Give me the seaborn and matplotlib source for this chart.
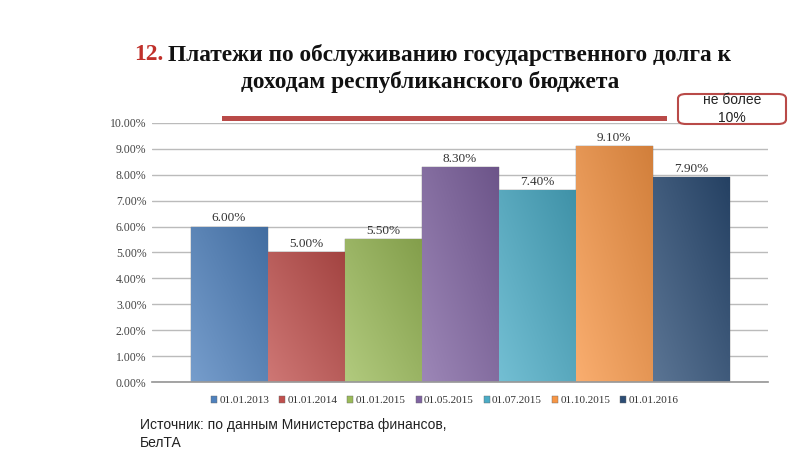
import matplotlib
matplotlib.use("Agg")
import matplotlib.pyplot as plt
import seaborn as sns
import pandas as pd
import numpy as np
from matplotlib.patches import FancyBboxPatch, Rectangle
from matplotlib.colors import to_rgb

dates = ["01.01.2013", "01.01.2014", "01.01.2015", "01.05.2015",
         "01.07.2015", "01.10.2015", "01.01.2016"]
values = [6.00, 5.00, 5.50, 8.30, 7.40, 9.10, 7.90]
colors = ["#4f81bd", "#c0504d", "#9bbb59", "#8064a2", "#4bacc6", "#f79646", "#2c4d75"]
yticks = [0, 1, 2, 3, 4, 5, 6, 7, 8, 9, 10]

df = pd.DataFrame({"group": ["g"] * len(dates), "date": dates, "value": values})

sns.set_theme(style="white")
plt.rcParams["font.family"] = ["Liberation Serif", "DejaVu Serif"]

fig = plt.figure(figsize=(8, 4.5), dpi=100)
ax = fig.add_axes([0.19, 0.151, 0.77, 0.576])

sns.barplot(data=df, x="group", y="value", hue="date", hue_order=dates,
            palette=colors, width=0.875, gap=0, ax=ax, legend=True,
            edgecolor="#666666", linewidth=0.3, saturation=1)

ax.set_ylim(0, 10)
ax.set_xlim(-0.5, 0.5)
ax.set_yticks(yticks)
ax.set_yticklabels([f"{t:.2f}%" for t in yticks], fontsize=8.5, color="#444444")
ax.tick_params(axis="y", length=0, pad=4)
ax.set_xticks([])
ax.set_xlabel("")
ax.set_ylabel("")
ax.yaxis.grid(True, color="#bbbbbb", linewidth=1)
ax.set_axisbelow(True)
for s in ["top", "right", "left"]:
    ax.spines[s].set_visible(False)
ax.spines["bottom"].set_color("#999999")


def shade(c, f):
    r = np.array(to_rgb(c))
    if f >= 0:
        return r + (1 - r) * f
    return r * (1 + f)


for cont in ax.containers:
    for bar in cont:
        h = bar.get_height()
        x0 = bar.get_x()
        w = bar.get_width()
        c = bar.get_facecolor()
        ny, nx = 60, 20
        xx, yy = np.meshgrid(np.linspace(0, 1, nx), np.linspace(0, 1, ny))
        t = (xx + yy) / 2  # 0 at bottom-left, 1 at top-right
        light = shade(c, 0.22)
        dark = shade(c, -0.15)
        img = light[None, None, :] * (1 - t[..., None]) + dark[None, None, :] * t[..., None]
        im = ax.imshow(img, extent=(x0, x0 + w, 0, h), origin="lower",
                       aspect="auto", zorder=bar.get_zorder() + 0.1, interpolation="bilinear")
        im.set_clip_path(bar)
        ax.text(x0 + w / 2, h + 0.08, f"{h:.2f}%",
                ha="center", va="bottom", fontsize=9.5, color="#333333")

ax.set_xlim(-0.5, 0.5)
ax.set_ylim(0, 10)

handles, labels = ax.get_legend_handles_labels()
ax.legend(handles, labels, loc="upper center", bbox_to_anchor=(0.475, -0.015),
          ncol=7, frameon=False, fontsize=8, handlelength=0.55, handleheight=0.55,
          handletextpad=0.2, columnspacing=0.9, labelcolor="#333333")

# Title
fig.text(168 / 800, 1 - 55 / 450, "Платежи по обслуживанию государственного долга к",
         ha="left", va="center", fontsize=16.8, fontweight="bold", color="#111111")
fig.text(430 / 800, 1 - 82 / 450, "доходам республиканского бюджета",
         ha="center", va="center", fontsize=16.8, fontweight="bold", color="#111111")
fig.text(163 / 800, 1 - 55 / 450, "12.", ha="right", va="center", fontsize=16.8,
         fontweight="bold", color="#c0302a")

# red bar
fig.add_artist(Rectangle((222 / 800, 1 - 121 / 450), (667 - 222) / 800, 5 / 450,
                         transform=fig.transFigure, color="#b94a48", lw=0))
# box
fig.add_artist(FancyBboxPatch((678 / 800, 1 - 124 / 450), 108 / 800, 30 / 450,
                              boxstyle="round,pad=0,rounding_size=0.01",
                              transform=fig.transFigure, facecolor="white",
                              edgecolor="#b94a48", lw=1.5))
fig.text(732 / 800, 1 - 100 / 450, "не более", ha="center", va="center",
         fontsize=10, family=["Liberation Sans", "DejaVu Sans"], color="#222222")
fig.text(732 / 800, 1 - 118 / 450, "10%", ha="center", va="center",
         fontsize=10, family=["Liberation Sans", "DejaVu Sans"], color="#222222")

fig.text(140 / 800, 1 - 425 / 450, "Источник: по данным Министерства финансов,",
         ha="left", va="center", fontsize=10, family=["Liberation Sans", "DejaVu Sans"],
         color="#222222")
fig.text(140 / 800, 1 - 443 / 450, "БелТА",
         ha="left", va="center", fontsize=10, family=["Liberation Sans", "DejaVu Sans"],
         color="#222222")

fig.savefig("out.png", dpi=100)
